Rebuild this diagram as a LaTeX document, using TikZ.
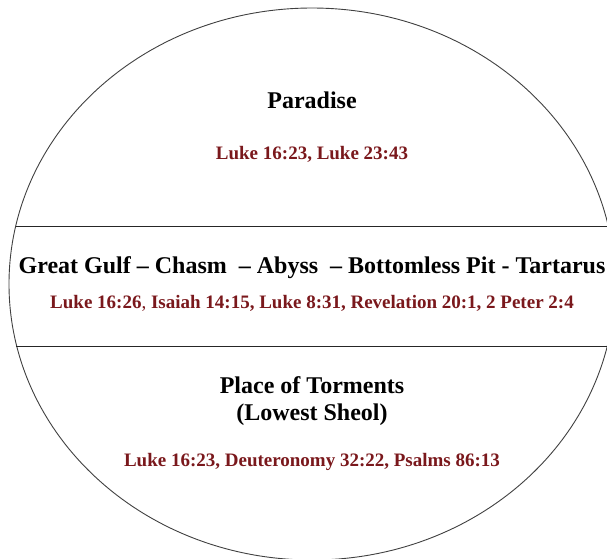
\documentclass[tikz,border=0pt]{standalone}
\usepackage{fontspec}
\setmainfont{Liberation Serif}
\definecolor{refred}{RGB}{122,24,28}
\begin{document}
\begin{tikzpicture}[x=1pt,y=-1pt,
  title/.style={font=\bfseries\fontsize{24}{28}\selectfont, inner sep=0pt, anchor=base, align=center},
  refs/.style={font=\bfseries\fontsize{19}{22}\selectfont, text=refred, inner sep=0pt, anchor=base},
  rim/.style={draw=black!75, line width=0.9pt},
  divider/.style={draw=black!85, line width=0.9pt}]
\useasboundingbox (0,0) rectangle (607,558);
\clip (0,0) rectangle (607,558);
\draw[rim] (312,284) ellipse [x radius=303, y radius=276];
\coordinate (l1) at (16,226);
\coordinate (r1) at (612,226);
\coordinate (l2) at (16,346);
\coordinate (r2) at (612,346);
\draw[divider] (l1) -- (r1);
\draw[divider] (l2) -- (r2);
\node[title] (paradise) at (312,108) {Paradise};
\node[refs] (pref) at (312,159) {Luke 16:23, Luke 23:43};
\node[title] (gulf) at (312,273) {Great Gulf -- Chasm \ -- Abyss \ -- Bottomless Pit - Tartarus};
\node[refs] (gref) at (312,308) {Luke 16:26{\mdseries,} Isaiah 14:15, Luke 8:31, Revelation 20:1, 2 Peter 2:4};
\node[title] (torment) at (312,393) {Place of Torments};
\node[title] (sheol) at (312,420) {(Lowest Sheol)};
\node[refs] (tref) at (312,466) {Luke 16:23, Deuteronomy 32:22, Psalms 86:13};
\end{tikzpicture}
\end{document}
